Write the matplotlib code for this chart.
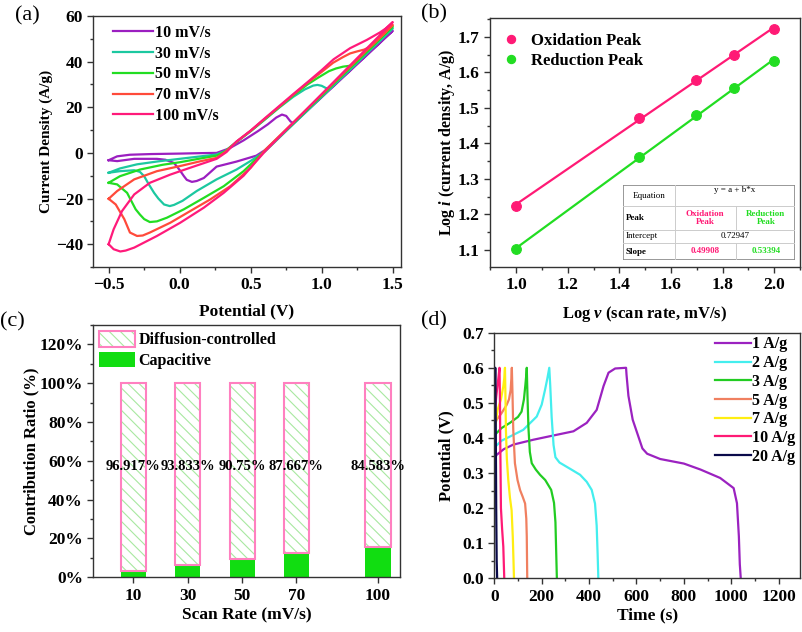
import numpy as np
import matplotlib
matplotlib.use('Agg')
import matplotlib.pyplot as plt
from matplotlib.patches import Patch, Rectangle
from matplotlib.ticker import MultipleLocator, FuncFormatter

plt.rcParams['font.family'] = 'Liberation Serif'
plt.rcParams['font.weight'] = 'bold'
plt.rcParams['axes.labelweight'] = 'bold'
plt.rcParams['mathtext.fontset'] = 'custom'
plt.rcParams['mathtext.it'] = 'Liberation Serif:italic:bold'
plt.rcParams['mathtext.rm'] = 'Liberation Serif:bold'
plt.rcParams['hatch.linewidth'] = 0.8

# ---- (a) CV curves: forward sweep then reverse sweep
cv_labels = ['10 mV/s', '30 mV/s', '50 mV/s', '70 mV/s', '100 mV/s']
cv_colors = ['#9B1FC0', '#1CC8A0', '#22DD22', '#FF4A3A', '#FF1A7A']

cv10_fv = [-0.5, -0.44, -0.35, -0.2, 0.0, 0.15, 0.26, 0.35, 0.45, 0.5, 0.55, 0.62, 0.68, 0.72, 0.75, 0.78, 0.8, 0.9, 1.0, 1.1, 1.2, 1.3, 1.4, 1.5]
cv10_fi = [-3.2, -1.5, -0.8, -0.5, -0.3, -0.1, 0.0, 2.0, 5.5, 7.5, 9.5, 12.5, 15.5, 16.8, 16.2, 13.8, 13.0, 18.9, 24.7, 30.5, 36.3, 42.1, 47.9, 53.5]
cv10_rv = [1.5, 1.4, 1.3, 1.2, 1.1, 1.0, 0.9, 0.8, 0.7, 0.6, 0.54, 0.4, 0.26, 0.17, 0.12, 0.086, 0.05, 0.03, 0.0, -0.04, -0.1, -0.16, -0.32, -0.44, -0.5]
cv10_ri = [53.5, 47.6, 41.8, 36.0, 30.2, 24.4, 18.6, 12.8, 7.0, 1.2, -1.2, -3.8, -6.0, -11.0, -12.3, -12.7, -11.8, -10.2, -7.5, -4.4, -3.0, -2.6, -2.6, -3.6, -3.2]

cv30_fv = [-0.5, -0.42, -0.3, -0.15, 0.0, 0.15, 0.26, 0.32, 0.4, 0.5, 0.6, 0.7, 0.8, 0.88, 0.94, 0.97, 1.0, 1.03, 1.06, 1.1, 1.2, 1.3, 1.4, 1.5]
cv30_fi = [-8.7, -6.8, -5.0, -3.7, -2.6, -1.5, -0.7, 0.8, 4.8, 9.5, 14.6, 19.8, 24.6, 27.8, 29.5, 29.8, 29.4, 28.4, 28.3, 30.8, 36.8, 42.8, 48.8, 54.6]
cv30_rv = [1.5, 1.4, 1.3, 1.2, 1.1, 1.0, 0.9, 0.8, 0.7, 0.6, 0.5, 0.4, 0.26, 0.12, 0.02, -0.04, -0.07, -0.11, -0.15, -0.18, -0.22, -0.25, -0.28, -0.32, -0.42, -0.5]
cv30_ri = [54.6, 48.6, 42.6, 36.6, 30.6, 24.6, 18.6, 12.6, 6.6, 0.6, -3.5, -7.3, -11.6, -16.7, -21.0, -22.8, -23.3, -22.6, -20.0, -17.5, -13.5, -10.2, -8.3, -7.6, -8.0, -8.7]

cv50_fv = [-0.5, -0.42, -0.28, -0.12, 0.0, 0.15, 0.26, 0.32, 0.4, 0.5, 0.6, 0.7, 0.8, 0.9, 0.97, 1.05, 1.1, 1.15, 1.2, 1.23, 1.3, 1.4, 1.5]
cv50_fi = [-13.1, -10.2, -7.3, -5.2, -4.1, -2.4, -1.2, 0.6, 4.8, 9.6, 14.8, 20.0, 25.2, 30.0, 32.8, 35.8, 37.0, 37.8, 38.2, 39.0, 43.5, 49.5, 55.4]
cv50_rv = [1.5, 1.4, 1.3, 1.2, 1.1, 1.0, 0.9, 0.8, 0.7, 0.6, 0.5, 0.45, 0.31, 0.17, 0.03, -0.09, -0.16, -0.21, -0.25, -0.28, -0.31, -0.37, -0.44, -0.5]
cv50_ri = [55.4, 49.3, 43.3, 37.2, 31.2, 25.1, 19.1, 13.0, 7.0, 0.9, -5.0, -8.0, -14.6, -19.7, -24.7, -28.4, -30.0, -30.3, -29.0, -27.0, -24.7, -17.5, -13.8, -13.1]

cv70_fv = [-0.5, -0.44, -0.32, -0.16, 0.0, 0.15, 0.26, 0.32, 0.4, 0.5, 0.6, 0.7, 0.8, 0.9, 1.0, 1.08, 1.15, 1.2, 1.25, 1.3, 1.34, 1.4, 1.45, 1.5]
cv70_fi = [-20.1, -16.7, -11.6, -8.0, -5.8, -3.6, -2.2, 0.4, 4.9, 9.7, 15.0, 20.2, 25.5, 30.7, 35.5, 39.5, 42.0, 43.6, 44.5, 45.3, 46.5, 50.0, 53.1, 56.1]
cv70_rv = [1.5, 1.4, 1.3, 1.2, 1.1, 1.0, 0.9, 0.8, 0.7, 0.6, 0.5, 0.356, 0.215, 0.074, -0.066, -0.21, -0.26, -0.3, -0.35, -0.39, -0.45, -0.5]
cv70_ri = [56.1, 50.0, 43.9, 37.8, 31.7, 25.6, 19.5, 13.4, 7.3, 1.2, -6.5, -14.6, -20.4, -25.5, -30.6, -34.9, -36.2, -36.4, -34.9, -29.0, -22.6, -20.1]

cv100_fv = [-0.5, -0.465, -0.406, -0.32, -0.21, -0.066, 0.074, 0.26, 0.33, 0.4, 0.5, 0.6, 0.7, 0.8, 0.9, 1.0, 1.083, 1.2, 1.317, 1.41, 1.45, 1.5]
cv100_fi = [-40.0, -33.5, -25.5, -18.2, -13.1, -9.5, -6.5, -2.6, 0.4, 5.0, 9.8, 15.2, 20.5, 25.8, 31.0, 36.3, 41.0, 45.9, 49.5, 52.8, 54.5, 57.3]
cv100_rv = [1.5, 1.4, 1.3, 1.2, 1.1, 1.0, 0.9, 0.8, 0.7, 0.6, 0.52, 0.45, 0.31, 0.17, 0.004, -0.16, -0.32, -0.38, -0.418, -0.465, -0.5]
cv100_ri = [57.3, 51.0, 44.7, 38.4, 32.1, 25.8, 19.5, 13.2, 6.9, 0.6, -5.0, -10.0, -17.5, -24.0, -30.6, -36.4, -41.5, -42.8, -43.2, -42.2, -40.0]

# ---- (b) log i vs log v
log_v = [1.0, 1.477, 1.699, 1.845, 2.0]
log_i_ox = [1.225, 1.472, 1.578, 1.650, 1.723]
log_i_red = [1.102, 1.362, 1.481, 1.557, 1.631]
tbl_intercept = '0.72947'
tbl_slope = ['0.49908', '0.53394']

# ---- (c) contribution ratio
scan_rates = [10, 30, 50, 70, 100]
diffusion = [96.917, 93.833, 90.75, 87.667, 84.583]
capacitive = [3.083, 6.167, 9.25, 12.333, 15.417]
diff_labels = ['96.917%', '93.833%', '90.75%', '87.667%', '84.583%']

# ---- (d) GCD curves
gcd_labels = ['1 A/g', '2 A/g', '3 A/g', '5 A/g', '7 A/g', '10 A/g', '20 A/g']
gcd_colors = ['#9B22C0', '#44EEEE', '#22CC22', '#F08060', '#FFEE11', '#FF1A75', '#0A0A4A']
gcd1_t = [0, 10, 40, 80, 165, 249, 334, 390, 432, 447, 461, 482, 510, 556, 558, 566, 584, 605, 625, 645, 700, 800, 870, 953, 1010, 1024, 1032, 1036, 1040]
gcd1_v = [0.34, 0.352, 0.368, 0.381, 0.395, 0.407, 0.419, 0.443, 0.48, 0.515, 0.548, 0.586, 0.598, 0.6, 0.58, 0.52, 0.452, 0.41, 0.37, 0.355, 0.34, 0.327, 0.31, 0.286, 0.257, 0.214, 0.12, 0.04, 0.0]
gcd2_t = [0, 4, 30, 66, 122, 179, 200, 214, 224, 232, 236, 242, 250, 258, 275, 300, 330, 362, 390, 411, 425, 432, 436, 439]
gcd2_v = [0.37, 0.375, 0.392, 0.404, 0.423, 0.461, 0.495, 0.537, 0.57, 0.6, 0.55, 0.46, 0.38, 0.345, 0.33, 0.32, 0.308, 0.295, 0.275, 0.252, 0.213, 0.15, 0.07, 0.0]
gcd3_t = [0, 4, 30, 66, 100, 115, 125, 131, 135, 137, 140, 144, 150, 158, 175, 193, 215, 240, 252, 258, 261, 264]
gcd3_v = [0.405, 0.41, 0.428, 0.443, 0.46, 0.475, 0.51, 0.55, 0.58, 0.6, 0.52, 0.43, 0.36, 0.328, 0.31, 0.295, 0.28, 0.252, 0.215, 0.16, 0.08, 0.0]
gcd5_t = [3, 10, 30, 52, 62, 69, 72, 74, 77, 80, 87, 98, 109, 120, 130, 135, 137, 139]
gcd5_v = [0.44, 0.452, 0.47, 0.494, 0.51, 0.537, 0.57, 0.6, 0.52, 0.423, 0.328, 0.28, 0.251, 0.232, 0.213, 0.17, 0.12, 0.0]
gcd7_t = [3, 14, 28, 38, 42, 45, 47, 49, 53, 59, 66, 73, 78, 81, 83]
gcd7_v = [0.43, 0.48, 0.51, 0.547, 0.57, 0.6, 0.52, 0.423, 0.34, 0.28, 0.23, 0.194, 0.118, 0.05, 0.0]
gcd10_t = [2, 8, 18, 22, 24, 25, 28, 33, 38, 42]
gcd10_v = [0.47, 0.517, 0.575, 0.6, 0.5, 0.4, 0.2, 0.14, 0.09, 0.0]
gcd20_t = [0, 2, 4, 6, 8, 10, 12]
gcd20_v = [0.3, 0.5, 0.6, 0.45, 0.2, 0.05, 0.0]

W, H = 803, 632
fig = plt.figure(figsize=(W / 100, H / 100), dpi=100)


def style(ax):
    for s in ax.spines.values():
        s.set_color('#333333')
        s.set_linewidth(1)
    ax.tick_params(which='both', direction='out', top=False, right=False, labelsize=12.5, width=1, color='#333333')
    ax.tick_params(which='major', length=4)
    ax.tick_params(which='minor', length=2)
    for lab in ax.get_xticklabels() + ax.get_yticklabels():
        lab.set_fontweight('bold')


# ---------------- (a)
ax = fig.add_axes([93.3 / W, 1 - 267 / H, 307.4 / W, 251 / H])
cv_data = [(cv10_fv, cv10_fi, cv10_rv, cv10_ri), (cv30_fv, cv30_fi, cv30_rv, cv30_ri),
           (cv50_fv, cv50_fi, cv50_rv, cv50_ri), (cv70_fv, cv70_fi, cv70_rv, cv70_ri),
           (cv100_fv, cv100_fi, cv100_rv, cv100_ri)]
for (fv, fi, rv, ri), c, lab in zip(cv_data, cv_colors, cv_labels):
    ax.plot(fv + rv, fi + ri, color=c, lw=1.6, label=lab)
ax.set_xlim(-0.608, 1.556)
ax.set_ylim(-50, 60)
ax.set_xticks([-0.5, 0.0, 0.5, 1.0, 1.5])
ax.set_yticks([-40, -20, 0, 20, 40, 60])
ax.xaxis.set_minor_locator(MultipleLocator(0.25))
ax.yaxis.set_minor_locator(MultipleLocator(10))
style(ax)
ax.set_xlabel('Potential (V)', fontsize=12.5)
ax.set_ylabel('Current Density (A/g)', fontsize=11)
ax.xaxis.set_label_coords(0.5, -0.145)
ax.yaxis.set_label_coords(-0.13, 0.5)
ax.legend(loc='upper left', bbox_to_anchor=(0.064, 0.965), frameon=False, fontsize=11.5,
          handlelength=2.5, handletextpad=0.15, labelspacing=0.3, borderpad=0, borderaxespad=0)

# ---------------- (b)
ax = fig.add_axes([490 / W, 1 - 266.7 / H, 310 / W, 248.4 / H])
ox_col, red_col = '#FF1A75', '#22DD22'
for y, c, lab in [(log_i_ox, ox_col, 'Oxidation Peak'), (log_i_red, red_col, 'Reduction Peak')]:
    k, b = np.polyfit(log_v, y, 1)
    xs = np.array([log_v[0], log_v[-1]])
    ax.plot(xs, k * xs + b, color=c, lw=1.6)
    ax.plot(log_v, y, 'o', color=c, ms=7, mec=c, mew=0.8, label=lab)
ax.set_xlim(0.899, 2.1)
ax.set_ylim(1.053, 1.752)
ax.set_xticks([1.0, 1.2, 1.4, 1.6, 1.8, 2.0])
ax.set_yticks([1.1, 1.2, 1.3, 1.4, 1.5, 1.6, 1.7])
ax.xaxis.set_minor_locator(MultipleLocator(0.1))
ax.yaxis.set_minor_locator(MultipleLocator(0.05))
style(ax)
ax.set_xlabel(r'Log $\mathit{v}$ (scan rate, mV/s)', fontsize=12)
ax.set_ylabel(r'Log $\mathit{i}$ (current density, A/g)', fontsize=11.5)
ax.xaxis.set_label_coords(0.5, -0.15)
ax.yaxis.set_label_coords(-0.108, 0.5)
ax.legend(loc='upper left', bbox_to_anchor=(0.045, 0.94), frameon=False, fontsize=12,
          handlelength=0.8, handletextpad=0.8, labelspacing=0.2, borderpad=0, borderaxespad=0,
          markerscale=0.85)

# inset fit table
tab = fig.add_axes([623 / W, 1 - 260 / H, 172 / W, 75 / H])
tab.set_xlim(623, 795)
tab.set_ylim(260, 185)
tab.axis('off')
tab.add_patch(Rectangle((623, 185), 172, 75, fill=False, ec='#888888', lw=1.2))
for yy in [206, 230, 243]:
    tab.plot([623, 795], [yy, yy], color='#cccccc', lw=0.7)
tab.plot([675, 675], [185, 260], color='#cccccc', lw=0.7)
tab.plot([736, 736], [206, 230], color='#cccccc', lw=0.7)
tab.plot([736, 736], [243, 260], color='#cccccc', lw=0.7)
tf = dict(fontsize=6.5, va='center')
tab.text(649, 196, 'Equation', ha='center', fontweight='normal', **tf)
tab.text(735, 190, 'y = a + b*x', ha='center', fontweight='normal', **tf)
tab.text(626, 218, 'Peak', ha='left', fontweight='bold', **tf)
tab.text(705, 218, 'Oxidation\nPeak', ha='center', color=ox_col, fontweight='bold', linespacing=1.0, **tf)
tab.text(766, 218, 'Reduction\nPeak', ha='center', color=red_col, fontweight='bold', linespacing=1.0, **tf)
tab.text(626, 236.5, 'Intercept', ha='left', fontweight='normal', **tf)
tab.text(735, 235.5, tbl_intercept, ha='center', fontweight='normal', **tf)
tab.text(626, 251.5, 'Slope', ha='left', fontweight='bold', **tf)
tab.text(705, 251, tbl_slope[0], ha='center', color=ox_col, fontweight='bold', **tf)
tab.text(766, 251, tbl_slope[1], ha='center', color=red_col, fontweight='bold', **tf)

# ---------------- (c)
ax = fig.add_axes([93.3 / W, 1 - 577.3 / H, 307 / W, 252.3 / H])
bw = 9.2
pink = '#FF80C0'
hatch_green = '#A8E8A0'
ax.bar(scan_rates, capacitive, width=bw, color='#11DD11', lw=0)
ax.bar(scan_rates, diffusion, bottom=capacitive, width=bw, color='white',
       hatch='\\\\\\', edgecolor=hatch_green, lw=0)
ax.bar(scan_rates, diffusion, bottom=capacitive, width=bw, color='none', edgecolor=pink, lw=1.5)
for x, s in zip(scan_rates, diff_labels):
    ax.text(x, 57, s, ha='center', va='center', fontsize=10.5, fontweight='bold')
ax.set_xlim(-4.7, 108.2)
ax.set_ylim(0, 130)
ax.set_xticks(scan_rates)
ax.set_yticks(range(0, 121, 20))
ax.yaxis.set_minor_locator(MultipleLocator(10))
ax.yaxis.set_major_formatter(FuncFormatter(lambda v, p: '%d%%' % v))
style(ax)
ax.set_xlabel('Scan Rate (mV/s)', fontsize=12.5)
ax.set_ylabel('Contribution Ratio (%)', fontsize=12)
ax.xaxis.set_label_coords(0.5, -0.118)
ax.yaxis.set_label_coords(-0.175, 0.5)
h_diff = (Patch(facecolor='white', hatch='\\\\\\', edgecolor=hatch_green, lw=0),
          Patch(facecolor='none', edgecolor=pink, lw=1.5))
h_cap = Patch(facecolor='#11DD11', lw=0)
ax.legend([h_diff, h_cap], ['Diffusion-controlled', 'Capacitive'], loc='upper left',
          bbox_to_anchor=(0.02, 0.975), frameon=False, fontsize=11.5, handlelength=2.25,
          handleheight=1.1, handletextpad=0.2, labelspacing=0.2, borderpad=0, borderaxespad=0)

# ---------------- (d)
ax = fig.add_axes([494.3 / W, 1 - 578.3 / H, 305.7 / W, 245.6 / H])
gcd = [(gcd1_t, gcd1_v), (gcd2_t, gcd2_v), (gcd3_t, gcd3_v), (gcd5_t, gcd5_v),
       (gcd7_t, gcd7_v), (gcd10_t, gcd10_v), (gcd20_t, gcd20_v)]
for (t, v), c, lab in zip(gcd, gcd_colors, gcd_labels):
    ax.plot(t, v, color=c, lw=1.6, label=lab)
ax.set_xlim(0, 1290)
ax.set_ylim(0, 0.7)
ax.set_xticks(range(0, 1201, 200))
ax.set_yticks(np.arange(0, 0.71, 0.1))
ax.yaxis.set_major_formatter(FuncFormatter(lambda v, p: '%.1f' % v))
ax.xaxis.set_minor_locator(MultipleLocator(100))
ax.yaxis.set_minor_locator(MultipleLocator(0.05))
style(ax)
ax.set_xlabel('Time (s)', fontsize=12.5)
ax.set_ylabel('Potential (V)', fontsize=12)
ax.xaxis.set_label_coords(0.5, -0.118)
ax.yaxis.set_label_coords(-0.129, 0.5)
ax.legend(loc='upper right', bbox_to_anchor=(0.985, 0.985), frameon=False, fontsize=11.5,
          handlelength=2.2, handletextpad=0.1, labelspacing=0.17, borderpad=0, borderaxespad=0)

# panel letters
for x, y, s in [(15, 16, '(a)'), (421, 14, '(b)'), (0, 322, '(c)'), (421, 321, '(d)')]:
    fig.text(x / W, 1 - y / H, s, fontsize=16, fontweight='normal', ha='left', va='center')

fig.savefig('out.png', dpi=100)
